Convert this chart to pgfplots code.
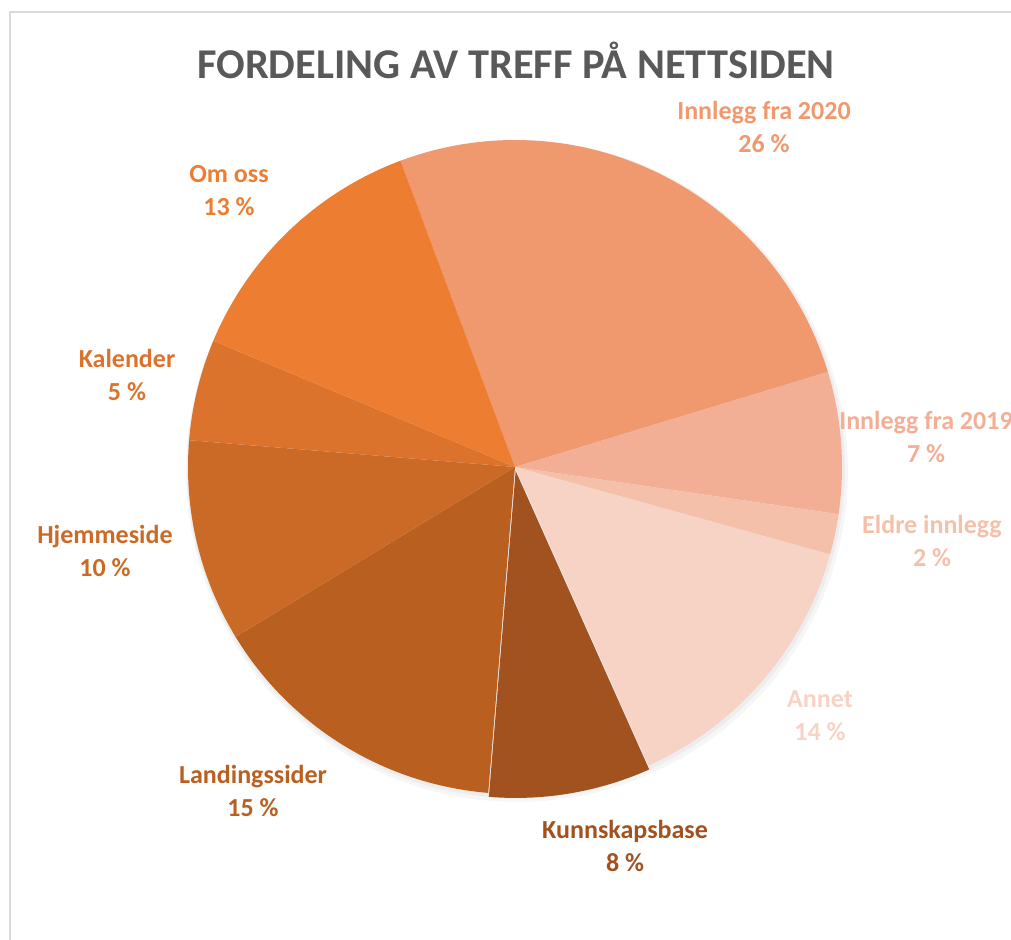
\documentclass[border=0pt]{standalone}
\usepackage{pgfplots}
\usepackage{pgfplotstable}
\pgfplotsset{compat=1.18}
\usepackage{fontspec}
\setmainfont{Carlito}

\definecolor{c1}{HTML}{F0996F}
\definecolor{c2}{HTML}{F2AF95}
\definecolor{c3}{HTML}{F4C0AA}
\definecolor{c4}{HTML}{F7D3C6}
\definecolor{c5}{HTML}{A2521E}
\definecolor{c6}{HTML}{B96021}
\definecolor{c7}{HTML}{CB6A27}
\definecolor{c8}{HTML}{DC732D}
\definecolor{c9}{HTML}{ED7D31}
\definecolor{titlegray}{HTML}{595959}
\definecolor{framegray}{HTML}{D9D9D9}

% value in percent; explode in px; label centre in image px
\pgfplotstableread[col sep=comma]{
name,value,col,ex,lx,ly
Innlegg fra 2020,26,c1,0,764,127
Innlegg fra 2019,7,c2,0,926,437
Eldre innlegg,2,c3,0,932,541
Annet,14,c4,0,820,716
Kunnskapsbase,8,c5,4,625,846
Landingssider,15,c6,0,253,791
Hjemmeside,10,c7,0,105,551
Kalender,5,c8,0,127,375
Om oss,13,c9,0,229,191
}\piedata

\begin{document}
\begin{tikzpicture}
\path[use as bounding box] (0,0) rectangle (505.5pt,469.5pt);
\clip (0,0) rectangle (505.5pt,469.5pt);
\begin{axis}[
  hide axis, scale only axis,
  width=505.5pt, height=469.5pt,
  xmin=0, xmax=1011, ymin=0, ymax=939,
  clip=false, anchor=south west, at={(0,0)},
]
% frame
\addplot[draw=framegray, line width=1pt] coordinates {(10,-10) (10,927) (1030,927)};
% soft shadow
\addplot[fill=black, fill opacity=0.035, draw=none, domain=0:360, samples=120]
  ({517+331*cos(x)},{468+331*sin(x)}) -- cycle;
\addplot[fill=black, fill opacity=0.035, draw=none, domain=0:360, samples=120]
  ({516+329*cos(x)},{470+329*sin(x)}) -- cycle;
\pgfplotstablegetrowsof{\piedata}
\pgfmathtruncatemacro{\N}{\pgfplotsretval-1}
\def\cum{110.5}
\pgfplotsforeachungrouped \i in {0,...,\N}{%
  \pgfplotstablegetelem{\i}{value}\of{\piedata}\let\v\pgfplotsretval
  \pgfplotstablegetelem{\i}{col}\of{\piedata}\let\c\pgfplotsretval
  \pgfplotstablegetelem{\i}{ex}\of{\piedata}\let\ex\pgfplotsretval
  \pgfplotstablegetelem{\i}{name}\of{\piedata}\let\nm\pgfplotsretval
  \pgfplotstablegetelem{\i}{lx}\of{\piedata}\let\lx\pgfplotsretval
  \pgfplotstablegetelem{\i}{ly}\of{\piedata}\let\lyimg\pgfplotsretval
  \pgfmathsetmacro{\a}{\cum}%
  \pgfmathsetmacro{\b}{\cum-3.6*\v}%
  \pgfmathsetmacro{\m}{(\a+\b)/2}%
  \pgfmathsetmacro{\cx}{515+\ex*cos(\m)}%
  \pgfmathsetmacro{\cy}{472+\ex*sin(\m)}%
  \pgfmathsetmacro{\ly}{939-\lyimg}%
  \edef\tmp{\noexpand\addplot[fill=\c, draw=none, domain=\b:\a, samples=60]
    ({\cx+327*cos(x)},{\cy+327*sin(x)}) -- (axis cs:\cx,\cy) -- cycle;
    \noexpand\node[align=center, text=\c, font=\noexpand\bfseries\noexpand\fontsize{13}{16.5}\noexpand\selectfont]
      at (axis cs:\lx,\ly) {\nm\noexpand\\\v\space\noexpand\%};}%
  \tmp
  \global\let\cum\b
}
\node[text=titlegray, font=\bfseries\fontsize{21.2}{25}\selectfont] at (axis cs:516,879) {FORDELING AV TREFF PÅ NETTSIDEN};
\end{axis}
\end{tikzpicture}
\end{document}
